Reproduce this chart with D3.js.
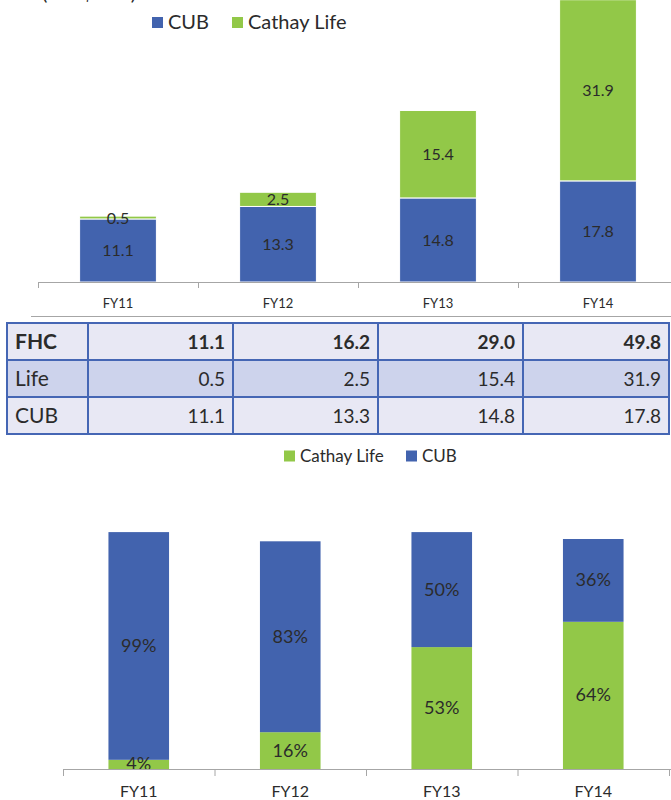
<!DOCTYPE html>
<html>
<head>
<meta charset="utf-8">
<script src="https://cdn.jsdelivr.net/npm/d3@7"></script>
<style>
  body { margin: 0; background: #fff; }
  svg { display: block; font-family: Lato, "Open Sans", sans-serif; }
</style>
</head>
<body>
<div class="chart"></div>
<script>
// data
const years = ['FY11', 'FY12', 'FY13', 'FY14'];
const cub = [11.1, 13.3, 14.8, 17.8];
const life = [0.5, 2.5, 15.4, 31.9];
const fhc = [11.1, 16.2, 29.0, 49.8];
const cubShare = [99, 83, 50, 36];
const lifeShare = [4, 16, 53, 64];

const blue = '#4263ae';
const green = '#92c848';
const ink = '#2b2b2b';

const width = 671, height = 800;
const svg = d3.select('.chart').append('svg')
    .attr('width', width)
    .attr('height', height);

// ---------- top chart: stacked NT$bn ----------
svg.append('text')
    .attr('x', 42).attr('y', 0)
    .attr('font-size', 20).attr('fill', ink)
    .attr('textLength', 94)
    .text('(NT$ bn)');

// legend
const leg1 = [{name: 'CUB', c: blue, x: 152}, {name: 'Cathay Life', c: green, x: 232}];
const lg1 = svg.append('g').selectAll('g').data(leg1).enter().append('g')
    .attr('transform', d => `translate(${d.x},22)`);
lg1.append('rect').attr('x', 0).attr('y', -5).attr('width', 11).attr('height', 11).attr('fill', d => d.c);
lg1.append('text').attr('x', 16).attr('y', 7).attr('font-size', 20).attr('fill', ink).text(d => d.name);

const x1 = d3.scaleBand().domain(years).range([38, 678]).paddingInner(0.52).paddingOuter(0.26);
const y1 = d3.scaleLinear().domain([0, 50]).range([282, -2]);

const topChart = svg.append('g');
years.forEach((yr, i) => {
  const g = topChart.append('g');
  g.append('rect')
      .attr('x', x1(yr)).attr('width', x1.bandwidth())
      .attr('y', y1(cub[i])).attr('height', y1(0) - y1(cub[i]))
      .attr('fill', blue).attr('stroke', '#fff').attr('stroke-width', 1);
  g.append('rect')
      .attr('x', x1(yr)).attr('width', x1.bandwidth())
      .attr('y', y1(cub[i] + life[i])).attr('height', y1(cub[i]) - y1(cub[i] + life[i]))
      .attr('fill', green).attr('stroke', '#fff').attr('stroke-width', 1);
  g.append('text')
      .attr('x', x1(yr) + x1.bandwidth() / 2)
      .attr('y', (y1(0) + y1(cub[i])) / 2 + 6)
      .attr('text-anchor', 'middle').attr('font-size', 16).attr('fill', ink)
      .text(cub[i].toFixed(1));
  g.append('text')
      .attr('x', x1(yr) + x1.bandwidth() / 2)
      .attr('y', (y1(cub[i]) + y1(cub[i] + life[i])) / 2 + 6)
      .attr('text-anchor', 'middle').attr('font-size', 16).attr('fill', ink)
      .text(life[i].toFixed(1));
});

// category axis with ticks between bands
const ax1 = svg.append('g');
ax1.append('line').attr('x1', 38).attr('x2', 671).attr('y1', 282.5).attr('y2', 282.5)
    .attr('stroke', '#a6a6a6');
ax1.selectAll('.tk').data(d3.range(5)).enter().append('line')
    .attr('x1', i => 38.5 + i * x1.step()).attr('x2', i => 38.5 + i * x1.step())
    .attr('y1', 282).attr('y2', 288).attr('stroke', '#a6a6a6');
ax1.selectAll('.lb').data(years).enter().append('text')
    .attr('x', d => x1(d) + x1.bandwidth() / 2).attr('y', 308)
    .attr('text-anchor', 'middle').attr('font-size', 13).attr('fill', ink)
    .text(d => d);
svg.append('line').attr('x1', 31).attr('x2', 671).attr('y1', 316.5).attr('y2', 316.5)
    .attr('stroke', '#a6a6a6');

// ---------- table ----------
const rowNames = ['FHC', 'Life', 'CUB'];
const rowVals = [fhc, life, cub];
const rowFill = ['#e8e8f4', '#cdd3ec', '#e8e8f4'];
const colEdges = [7, 88, 233, 378, 523, 669];
const rowTop = 323, rowH = 37;

const tbl = svg.append('g');
rowNames.forEach((r, ri) => {
  const yTop = rowTop + ri * rowH;
  tbl.append('rect').attr('x', colEdges[0]).attr('y', yTop)
      .attr('width', colEdges[5] - colEdges[0]).attr('height', rowH)
      .attr('fill', rowFill[ri]);
  tbl.append('text').attr('x', colEdges[0] + 8).attr('y', yTop + rowH / 2 + 7)
      .attr('font-size', 21).attr('font-weight', ri === 0 ? 700 : 400).attr('fill', ink)
      .text(r);
  rowVals[ri].forEach((v, ci) => {
    tbl.append('text').attr('x', colEdges[ci + 2] - 8).attr('y', yTop + rowH / 2 + 7)
        .attr('text-anchor', 'end').attr('font-size', 19)
        .attr('font-weight', ri === 0 ? 700 : 400).attr('fill', ink)
        .text(v.toFixed(1));
  });
});
// grid lines
tbl.selectAll('.vl').data(colEdges).enter().append('line')
    .attr('x1', d => d).attr('x2', d => d)
    .attr('y1', rowTop).attr('y2', rowTop + 3 * rowH)
    .attr('stroke', '#4566b4').attr('stroke-width', 2);
tbl.selectAll('.hl').data(d3.range(4)).enter().append('line')
    .attr('x1', colEdges[0] - 1).attr('x2', colEdges[5] + 1)
    .attr('y1', i => rowTop + i * rowH).attr('y2', i => rowTop + i * rowH)
    .attr('stroke', '#4566b4').attr('stroke-width', 2);

// ---------- bottom chart: share % ----------
const leg2 = [{name: 'Cathay Life', c: green, x: 284}, {name: 'CUB', c: blue, x: 406}];
const lg2 = svg.append('g').selectAll('g').data(leg2).enter().append('g')
    .attr('transform', d => `translate(${d.x},456)`);
lg2.append('rect').attr('x', 0).attr('y', -5.5).attr('width', 11).attr('height', 11).attr('fill', d => d.c);
lg2.append('text').attr('x', 16).attr('y', 6).attr('font-size', 17).attr('fill', ink).text(d => d.name);

const x2 = d3.scaleBand().domain(years).range([63, 669]).paddingInner(0.6).paddingOuter(0.3);
const y2 = d3.scaleLinear().domain([0, 100]).range([769, 539]);

years.forEach((yr, i) => {
  const g = svg.append('g');
  const cx = x2(yr) + x2.bandwidth() / 2;
  g.append('rect')
      .attr('x', x2(yr)).attr('width', x2.bandwidth())
      .attr('y', y2(lifeShare[i])).attr('height', y2(0) - y2(lifeShare[i]))
      .attr('fill', green);
  g.append('rect')
      .attr('x', x2(yr)).attr('width', x2.bandwidth())
      .attr('y', y2(lifeShare[i] + cubShare[i])).attr('height', y2(lifeShare[i]) - y2(lifeShare[i] + cubShare[i]))
      .attr('fill', blue);
  g.append('text').attr('x', cx).attr('y', (y2(0) + y2(lifeShare[i])) / 2 + 6)
      .attr('text-anchor', 'middle').attr('font-size', 18).attr('fill', ink)
      .text(lifeShare[i] + '%');
  g.append('text').attr('x', cx).attr('y', (y2(lifeShare[i]) + y2(lifeShare[i] + cubShare[i])) / 2 + 6)
      .attr('text-anchor', 'middle').attr('font-size', 18).attr('fill', ink)
      .text(cubShare[i] + '%');
});

const ax2 = svg.append('g');
ax2.append('line').attr('x1', 63).attr('x2', 671).attr('y1', 769.5).attr('y2', 769.5)
    .attr('stroke', '#a6a6a6');
ax2.selectAll('.tk').data(d3.range(5)).enter().append('line')
    .attr('x1', i => 63.5 + i * x2.step()).attr('x2', i => 63.5 + i * x2.step())
    .attr('y1', 769).attr('y2', 776).attr('stroke', '#a6a6a6');
ax2.selectAll('.lb').data(years).enter().append('text')
    .attr('x', d => x2(d) + x2.bandwidth() / 2).attr('y', 797)
    .attr('text-anchor', 'middle').attr('font-size', 16).attr('fill', ink)
    .text(d => d);
</script>
</body>
</html>
